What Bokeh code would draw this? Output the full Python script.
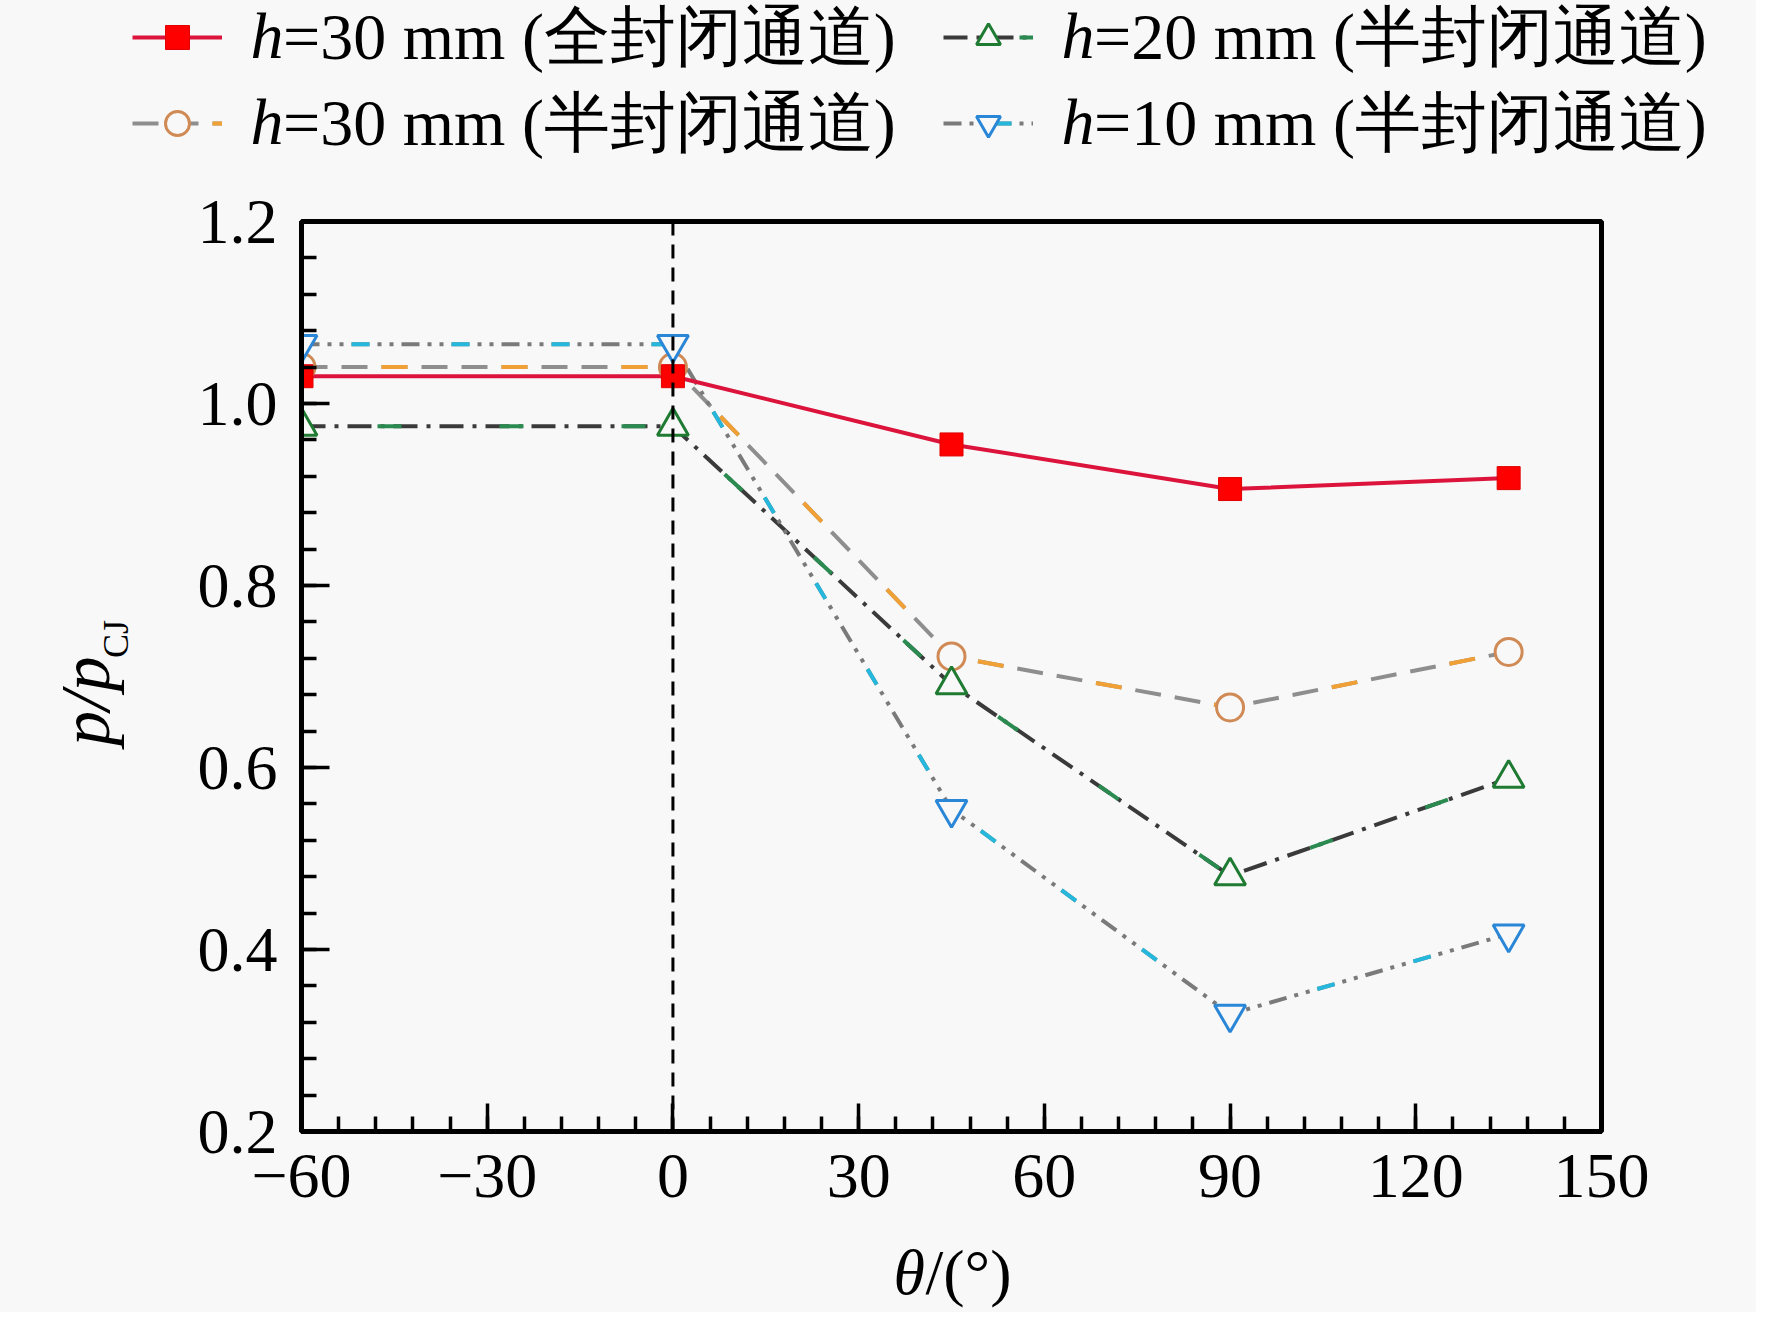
import math
from bokeh.plotting import figure
from bokeh.layouts import column, row
from bokeh.models import (FixedTicker, Legend, LegendItem, Span, ColumnDataSource,
                          PrintfTickFormatter, Range1d)
from bokeh.embed import file_html
from bokeh.resources import INLINE
from bokeh.core.properties import value

# ---- data ----
theta = [-60, 0, 45, 90, 135]
p_full_30 = [1.03, 1.03, 0.955, 0.906, 0.918]
p_semi_30 = [1.04, 1.04, 0.722, 0.666, 0.727]
p_semi_20 = [0.975, 0.975, 0.691, 0.481, 0.588]
p_semi_10 = [1.065, 1.065, 0.554, 0.329, 0.417]

legend_h = ["h", "h", "h", "h"]
legend_rest = ["=30 mm (全封闭通道)", "=20 mm (半封闭通道)", "=30 mm (半封闭通道)", "=10 mm (半封闭通道)"]
x_ticks = [-60, -30, 0, 30, 60, 90, 120, 150]
x_minor = [-60, -54, -48, -42, -36, -30, -24, -18, -12, -6, 0, 6, 12, 18, 24, 30, 36, 42, 48, 54, 60,
           66, 72, 78, 84, 90, 96, 102, 108, 114, 120, 126, 132, 138, 144, 150]
x_labels = {-60: "−60", -30: "−30", 0: "0", 30: "30", 60: "60", 90: "90", 120: "120", 150: "150"}
y_ticks = [0.2, 0.4, 0.6, 0.8, 1.0, 1.2]
y_minor = [0.2, 0.24, 0.28, 0.32, 0.36, 0.4, 0.44, 0.48, 0.52, 0.56, 0.6, 0.64, 0.68, 0.72, 0.76, 0.8,
           0.84, 0.88, 0.92, 0.96, 1.0, 1.04, 1.08, 1.12, 1.16, 1.2]
y_title = ["p/p", "CJ"]
x_title = ["θ", "/(°)"]

BG = "#f8f8f8"
SERIF = "Liberation Serif"

W, H = 1756, 1312
TOP_H = 175          # legend strip
BOT_H = 80           # x-title strip
MID_H = H - TOP_H - BOT_H
YL_W = 160           # y-title strip
FL, FR, FT, FB = 301, 1601, 221, 1131   # frame in page pixels

# ---------------- styles ----------------
LW = 4
S_RED_LINE = dict(line_color="#dc143c", line_width=LW)
S_OR_A = dict(line_color="#8e8e8e", line_width=LW, line_dash="26 14")
S_OR_B = dict(line_color="#f0a035", line_width=LW, line_dash="26 94", line_dash_offset=40)
S_GR_A = dict(line_color="#3a3a3a", line_width=LW, line_dash="24 9 4 9")
S_GR_B = dict(line_color="#2a8a50", line_width=LW, line_dash="24 98", line_dash_offset=46)
S_BL_A = dict(line_color="#7a7a7a", line_width=LW, line_dash="18 8 4 8 4 8")
S_BL_B = dict(line_color="#25b8dc", line_width=LW, line_dash="18 82", line_dash_offset=50)
M_OR = dict(marker="circle", size=27, fill_color=BG, line_color="#d08a55", line_width=3)
M_GR = dict(marker="triangle", size=31, fill_color=BG, line_color="#1f7a32", line_width=3)
M_BL = dict(marker="inverted_triangle", size=31, fill_color=BG, line_color="#2a86d6", line_width=3)
M_RED = dict(marker="square", size=23, fill_color="#ff0000", line_color="#e00000", line_width=1)


def blank(width, height, xr, yr):
    f = figure(width=width, height=height, x_range=xr, y_range=yr, output_backend="svg",
               toolbar_location=None, min_border=0, background_fill_color=BG, border_fill_color=BG)
    f.axis.visible = False
    f.grid.visible = False
    f.outline_line_color = None
    return f

# ---------------- main plot ----------------
MAIN_W = W - YL_W
p = figure(width=MAIN_W, height=MID_H, x_range=(-60, 150), y_range=(0.2, 1.2),
           output_backend="svg", toolbar_location=None,
           min_border_left=FL - YL_W, min_border_right=W - FR, min_border_top=FT - TOP_H,
           min_border_bottom=TOP_H + MID_H - FB,
           background_fill_color=BG, border_fill_color=BG)
p.grid.visible = False
p.outline_line_color = "black"
p.outline_line_width = 5

for ax in (p.xaxis[0], p.yaxis[0]):
    ax.axis_line_width = 5
    ax.major_tick_line_width = 3.5
    ax.minor_tick_line_width = 3.5
    ax.major_tick_in = 28
    ax.major_tick_out = 0
    ax.minor_tick_in = 15
    ax.minor_tick_out = 0
    ax.major_label_text_font = SERIF
    ax.major_label_text_font_size = "64px"
    ax.major_label_text_color = "black"

p.xaxis.ticker = FixedTicker(ticks=x_ticks, minor_ticks=x_minor)
p.xaxis.major_label_overrides = x_labels
p.xaxis.major_label_standoff = 23
p.yaxis.ticker = FixedTicker(ticks=y_ticks, minor_ticks=y_minor)
p.yaxis.formatter = PrintfTickFormatter(format="%.1f")
p.yaxis.major_label_standoff = 24

p.add_layout(Span(location=0, dimension="height", line_color="black", line_width=3, line_dash="14 9"))

s1 = ColumnDataSource(dict(x=theta, y=p_full_30))
s2 = ColumnDataSource(dict(x=theta, y=p_semi_20))
s3 = ColumnDataSource(dict(x=theta, y=p_semi_30))
s4 = ColumnDataSource(dict(x=theta, y=p_semi_10))

p.line("x", "y", source=s3, **S_OR_A)
p.line("x", "y", source=s3, **S_OR_B)
p.line("x", "y", source=s2, **S_GR_A)
p.line("x", "y", source=s2, **S_GR_B)
p.line("x", "y", source=s4, **S_BL_A)
p.line("x", "y", source=s4, **S_BL_B)
p.line("x", "y", source=s1, **S_RED_LINE)
p.scatter("x", "y", source=s3, **M_OR)
p.scatter("x", "y", source=s2, **M_GR)
p.scatter("x", "y", source=s4, **M_BL)
p.scatter("x", "y", source=s1, **M_RED)

# ---------------- legend strip (proxy renderers hold no visible data) ----------------
lg = blank(W, TOP_H, Range1d(0, W), Range1d(TOP_H, 0))
NAN = float("nan")
proxy = lambda: ColumnDataSource(dict(x=[NAN], y=[NAN]))
r1 = [lg.line("x", "y", source=proxy(), **S_RED_LINE), lg.scatter("x", "y", source=proxy(), **M_RED)]
r3 = [lg.line("x", "y", source=proxy(), **S_OR_A), lg.line("x", "y", source=proxy(), **S_OR_B),
      lg.scatter("x", "y", source=proxy(), **M_OR)]
r2 = [lg.line("x", "y", source=proxy(), **S_GR_A), lg.line("x", "y", source=proxy(), **S_GR_B),
      lg.scatter("x", "y", source=proxy(), **M_GR)]
r4 = [lg.line("x", "y", source=proxy(), **S_BL_A), lg.line("x", "y", source=proxy(), **S_BL_B),
      lg.scatter("x", "y", source=proxy(), **M_BL)]

ROWS = [44, 130]        # legend row anchors
HROWS = [35, 121]       # italic h anchors
COLS = [132, 943]
GLW, GLH, LBH, HGAP, FS = 90, 60, 76, 28, 66
HW = FS // 2


def one_legend(label, rends, gx, cy):
    return Legend(items=[LegendItem(label=label, renderers=rends)],
                  location=(int(gx), int(TOP_H - (cy + LBH // 2))), orientation="vertical",
                  glyph_width=GLW, glyph_height=GLH, label_height=LBH, label_width=10,
                  label_standoff=HGAP + HW, spacing=0, padding=0, margin=0,
                  border_line_alpha=0, background_fill_alpha=0,
                  label_text_font=SERIF, label_text_font_size=f"{FS}px", label_text_color="black")

lg.add_layout(one_legend(legend_rest[0], r1, COLS[0], ROWS[0]))
lg.add_layout(one_legend(legend_rest[1], r2, COLS[1], ROWS[0]))
lg.add_layout(one_legend(legend_rest[2], r3, COLS[0], ROWS[1]))
lg.add_layout(one_legend(legend_rest[3], r4, COLS[1], ROWS[1]))
hx = [COLS[0] + GLW + HGAP, COLS[1] + GLW + HGAP, COLS[0] + GLW + HGAP, COLS[1] + GLW + HGAP]
hy = [HROWS[0], HROWS[0], HROWS[1], HROWS[1]]
lg.text(x=hx, y=hy, text=legend_h, text_font=value(SERIF), text_font_style="italic",
        text_font_size=f"{FS}px", text_baseline="middle", text_align="left", text_color="black")

# ---------------- y title strip ----------------
yl = blank(YL_W, MID_H, Range1d(0, YL_W), Range1d(TOP_H + MID_H, TOP_H))
yl.text(x=[85], y=[732], text=[y_title[0]], angle=math.pi / 2, text_font=value(SERIF),
        text_font_style="italic", text_font_size="70px", text_baseline="middle",
        text_align="center", text_color="black")
yl.text(x=[115], y=[660], text=[y_title[1]], angle=math.pi / 2, text_font=value(SERIF),
        text_font_size="36px", text_baseline="middle", text_align="center", text_color="black")

# ---------------- x title strip ----------------
xl = blank(W, BOT_H, Range1d(0, W), Range1d(H, H - BOT_H))
xl.text(x=[893], y=[1272], text=[x_title[0]], text_font=value(SERIF), text_font_style="italic",
        text_font_size="64px", text_baseline="middle", text_align="left", text_color="black")
xl.text(x=[925], y=[1272], text=[x_title[1]], text_font=value(SERIF),
        text_font_size="64px", text_baseline="middle", text_align="left", text_color="black")

layout = column(lg, row(yl, p, styles={"background-color": BG}), xl, styles={"background-color": BG})
open("out.html", "w").write(file_html(layout, INLINE))
